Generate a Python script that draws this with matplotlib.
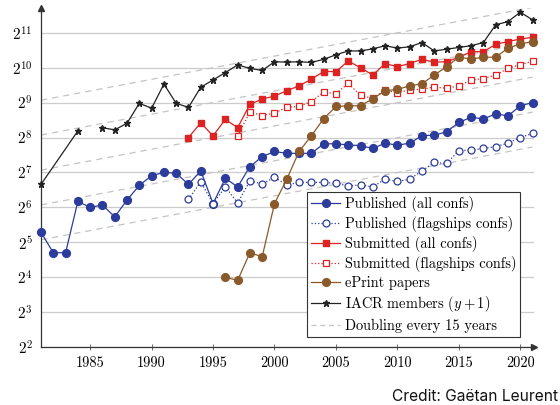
import numpy as np
import matplotlib
matplotlib.use('Agg')
import matplotlib.pyplot as plt
from matplotlib.lines import Line2D
from matplotlib.ticker import NullLocator

plt.rcParams['font.family'] = ['cmr10', 'DejaVu Serif']
plt.rcParams['mathtext.fontset'] = 'cm'
plt.rcParams['axes.unicode_minus'] = False
plt.rcParams['axes.formatter.use_mathtext'] = True

# ---------------- data ----------------
pub_years = list(range(1981, 2022))
pub_all = [39, 26, 26, 72, 64, 67, 53, 74, 99, 120,
           128, 126, 101, 132, 69, 114, 96, 144, 175, 194,
           187, 187, 187, 226, 226, 221, 218, 206, 229, 220,
           229, 265, 269, 286, 345, 383, 370, 410, 393, 481, 512]

pubf_years = list(range(1993, 2022))
pub_flag = [75, 106, 69, 96, 70, 108, 102, 116, 100, 105,
            105, 105, 103, 98, 100, 96, 112, 107, 112, 132,
            156, 153, 197, 199, 206, 214, 229, 256, 278]

sub_years = list(range(1993, 2022))
sub_all = [256, 342, 265, 367, 311, 495, 549, 584, 648, 714,
           815, 949, 949, 1168, 1024, 885, 1113, 1045, 1113, 1209,
           1144, 1152, 1261, 1408, 1408, 1629, 1722, 1808, 1872]

subf_years = list(range(1997, 2022))
sub_flag = [265, 425, 396, 416, 468, 474, 523, 630, 613, 749,
            592, 556, 657, 621, 662, 666, 699, 680, 714, 803,
            826, 885, 1010, 1090, 1160]

eprint_years = list(range(1996, 2022))
eprint = [16, 15, 26, 24, 69, 112, 194, 265, 372, 474,
          481, 481, 553, 648, 666, 714, 744, 885, 1045, 1261,
          1218, 1261, 1261, 1510, 1641, 1722]

iacr_years = [1981, 1984, 1985] + list(range(1986, 2022))
iacr = [101, 292, np.nan,
        311, 298, 340, 505, 458, 739, 505, 465, 695, 803,
        929, 1082, 1010, 969, 1152, 1144, 1152, 1136, 1209, 1323,
        1428, 1428, 1489, 1585, 1510, 1552, 1687, 1428, 1478, 1531,
        1585, 1687, 2402, 2556, 3082, 2647]

# guide lines "doubling every 15 years": values at both ends
guide_years = [1981, 2021]
guide_start = [33.6, 67.2, 134, 269, 537]
guide_end = [212, 424, 849, 1698, 3396]

x_ticks = [1985, 1990, 1995, 2000, 2005, 2010, 2015, 2020]
y_exponents = list(range(2, 12))

labels = ['Published (all confs)', 'Published (flagships confs)',
          'Submitted (all confs)', 'Submitted (flagships confs)',
          'ePrint papers', 'IACR members ($y+1$)', 'Doubling every 15 years']

# ---------------- styles ----------------
BLUE = '#2c3c9c'
RED = '#dd2222'
BROWN = '#8b5a2b'
BLACK = '#222222'
GUIDE = '#c4c4c4'

fig = plt.figure(figsize=(5.6, 4.05), dpi=100)
ax = fig.add_axes([41 / 560, 58 / 405, 492.8 / 560, 339 / 405])
ax.set_yscale('log', base=2)
ax.set_xlim(1981, 2021.1)
ax.set_ylim(4, 2 ** 11.71)

# grid
ax.set_yticks([2 ** k for k in y_exponents])
ax.set_yticklabels([r'$2^{%d}$' % k for k in y_exponents])
ax.yaxis.set_minor_locator(NullLocator())
ax.set_xticks(x_ticks)
ax.set_xticklabels([str(v) for v in x_ticks])
ax.grid(axis='y', color='#cccccc', lw=0.9, zorder=0)
ax.set_axisbelow(True)

for s, e in zip(guide_start, guide_end):
    ax.plot(guide_years, [s, e], color=GUIDE, lw=0.9, ls=(0, (5, 4)), zorder=1)

lw = 0.9
st_pub = dict(color=BLUE, lw=lw, marker='o', ms=5.6, mfc=BLUE, mec=BLUE)
st_pubf = dict(color=BLUE, lw=lw, ls=':', marker='o', ms=5.0, mfc='white', mec=BLUE, mew=0.9)
st_sub = dict(color=RED, lw=lw, marker='s', ms=5.0, mfc=RED, mec=RED)
st_subf = dict(color=RED, lw=lw, ls=':', marker='s', ms=4.6, mfc='white', mec=RED, mew=0.9)
st_ep = dict(color=BROWN, lw=lw, marker='o', ms=5.6, mfc=BROWN, mec=BROWN)
st_iacr = dict(color=BLACK, lw=lw, marker='*', ms=4.8, mfc=BLACK, mec=BLACK)

ax.plot(pub_years, pub_all, zorder=3, clip_on=False, **st_pub)
ax.plot(pubf_years, pub_flag, zorder=3, clip_on=False, **st_pubf)
ax.plot(sub_years, sub_all, zorder=3, clip_on=False, **st_sub)
ax.plot(subf_years, sub_flag, zorder=3, clip_on=False, **st_subf)
ax.plot(eprint_years, eprint, zorder=4, clip_on=False, **st_ep)
ax.plot(iacr_years, iacr, zorder=4, clip_on=False, **st_iacr)

# axes appearance
for side in ['top', 'right']:
    ax.spines[side].set_visible(False)
for side in ['left', 'bottom']:
    ax.spines[side].set_color('#333333')
    ax.spines[side].set_linewidth(0.9)
ax.tick_params(axis='x', direction='inout', length=5, width=0.6,
               color='#555555', labelsize=10.3, pad=4)
ax.tick_params(axis='y', direction='inout', length=0, width=0.6,
               color='#555555', labelsize=11, pad=6)
ax.plot(1, 0, '>', color='#333333', ms=4, transform=ax.transAxes, clip_on=False)
ax.plot(0, 1, '^', color='#333333', ms=4, transform=ax.transAxes, clip_on=False)

handles = [
    Line2D([], [], **st_pub),
    Line2D([], [], **st_pubf),
    Line2D([], [], **st_sub),
    Line2D([], [], **st_subf),
    Line2D([], [], **st_ep),
    Line2D([], [], **st_iacr),
    Line2D([], [], color=GUIDE, lw=0.9, ls=(0, (4, 3))),
]
leg = ax.legend(handles, labels, loc='lower left',
                bbox_to_anchor=(307 / 560, 68 / 405), bbox_transform=fig.transFigure,
                fontsize=10.4, frameon=True, fancybox=False, framealpha=1,
                edgecolor='#333333', handlelength=2.0, handletextpad=0.3,
                labelspacing=0.28, borderpad=0.3, borderaxespad=0)
leg.get_frame().set_linewidth(0.8)
leg.set_zorder(10)

fig.text(0.996, 0.022, 'Credit: Gaëtan Leurent', ha='right', va='center',
         fontsize=11.2, family='Inter', color='#111111')

fig.savefig('out.png', dpi=100)
